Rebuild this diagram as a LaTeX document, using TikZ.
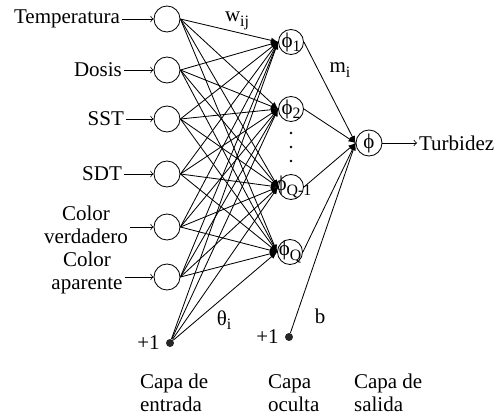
\documentclass[tikz,border=0pt]{standalone}
\usepackage{fontspec}
\setmainfont{Liberation Serif}
\usetikzlibrary{arrows}
\usetikzlibrary{math}

\newcommand{\low}[1]{\raisebox{-0.45ex}{\fontsize{9.5}{10}\selectfont #1}}

\tikzset{
neuron/.style={draw,circle,minimum size=15.6pt,inner sep=0pt},
biasdot/.style={fill=black!85,circle,minimum size=4.8pt,inner sep=0pt},
lbl/.style={inner sep=1pt},
}

\begin{document}
\begin{tikzpicture}[x=0.6pt,y=-0.6pt,line width=0.5pt,font=\fontsize{12.6}{13.5}\selectfont]
\useasboundingbox (0,0) rectangle (502,416);

% capa de entrada
\foreach \i/\y in {1/19,2/70,3/119,4/174,5/227,6/277}
  \node[neuron] (in\i) at (167,\y) {};

\node[lbl,anchor=east] (t1) at (122,19) {Temperatura};
\node[lbl,anchor=east] (t2) at (124,70) {Dosis};
\node[lbl,anchor=east] (t3) at (126,119) {SST};
\node[lbl,anchor=east] (t4) at (124,174) {SDT};
\node[lbl,align=center] (t5) at (86,225) {Color\\verdadero};
\node[lbl,align=center] (t6) at (87,273) {Color\\aparente};

\foreach \i in {1,...,4}
  \draw[->] (t\i.east) -- (in\i);
\draw[->] (t5.east |- in5) -- (in5);
\draw[->] (t6.east |- in6) -- (in6);

\node[biasdot,label={left:+1}] (b1) at (170,343) {};

% capa oculta
\node[neuron,minimum size=15pt] (h1) at (291,42) {\makebox[0pt]{ϕ\low{1}}};
\node[neuron,minimum size=15pt] (h2) at (291,109) {\makebox[0pt]{ϕ\low{2}}};
\node[neuron,minimum size=15pt] (h3) at (291,187) {\makebox[0pt]{\hspace*{3pt}ϕ\low{Q-1}}};
\node[neuron,minimum size=15pt] (h4) at (290,252) {\makebox[0pt]{ϕ\low{Q}}};
\foreach \y in {133,147,161}
  \fill (291,\y) circle (1.3);

\node[biasdot,label={left:+1}] (b2) at (289,337) {};

% capa de salida
\node[neuron] (out) at (369,143) {ϕ};
\node[lbl,anchor=west] (turb) at (417,143) {Turbidez};
\draw[->] (out) -- (turb);

\foreach \h in {1,...,4}{
  \foreach \i in {1,...,6}
    \draw[-latex] (in\i.east) -- (h\h.west);
  \draw[-latex] (b1) -- (h\h.west);
  \draw[-latex] (h\h.east) -- (out.west);
}
\draw[-latex] (b2) -- (out.west);

% pesos
\node (wij) at (237,21) {w\low{ij}};
\node (mi) at (340,70) {m\low{i}};
\node (thi) at (224,320) {θ\low{i}};
\node (bw) at (320,316) {b};

\node[lbl,anchor=west,align=left] (cap1) at (138,393) {Capa de\\entrada};
\node[lbl,anchor=west,align=left] (cap2) at (266,393) {Capa\\oculta};
\node[lbl,anchor=west,align=left] (cap3) at (352,393) {Capa de\\salida};
\end{tikzpicture}
\end{document}
